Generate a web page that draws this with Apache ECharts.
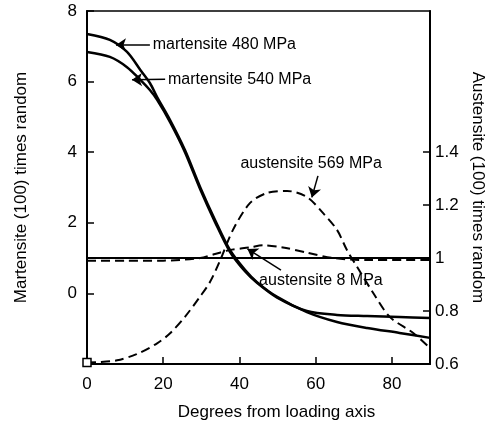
<!DOCTYPE html>
<html>
<head>
<meta charset="utf-8">
<script src="https://cdn.jsdelivr.net/npm/echarts@6/dist/echarts.min.js"></script>
<style>
html, body { margin: 0; padding: 0; background: #fff; }
#main { width: 494px; height: 428px; }
</style>
</head>
<body>
<div id="main"></div>
<script>
var myChart = echarts.init(document.getElementById('main'));

// angle from loading axis (deg) and times-random values
var m480Angle = [0, 6, 10.5, 14, 16.5, 18.4, 21.8, 25.7, 29.7, 33.6, 37.5, 41.5, 44.6, 49.9, 57.7, 65.6, 73.5, 82, 90];
var m480Value = [7.35, 7.18, 6.84, 6.33, 5.96, 5.56, 4.91, 4.06, 3.01, 2.08, 1.23, 0.66, 0.32, -0.10, -0.53, -0.81, -0.98, -1.12, -1.26];

var m540Angle = [0, 6, 10.5, 14, 16.5, 18.4, 21.8, 25.7, 29.7, 33.6, 37.5, 41.5, 44.6, 49.9, 57.7, 65.6, 73.5, 82, 90];
var m540Value = [6.84, 6.70, 6.41, 6.05, 5.76, 5.48, 4.85, 4.00, 2.95, 2.02, 1.18, 0.62, 0.30, -0.12, -0.50, -0.61, -0.64, -0.67, -0.70];

var a569Angle = [0, 3.4, 7.9, 13, 18.4, 21.8, 25.7, 29.7, 32.3, 34.9, 38.3, 42.8, 47.2, 52.5, 57.7, 61.9, 65.6, 68.2, 70.9, 75.1, 79.5, 85.6, 90];
var a569Value = [0.606, 0.607, 0.614, 0.637, 0.678, 0.716, 0.778, 0.855, 0.91, 0.99, 1.106, 1.208, 1.245, 1.253, 1.230, 1.170, 1.106, 1.030, 0.966, 0.868, 0.777, 0.717, 0.66];

var a8Angle = [0, 10, 20, 29.7, 33.6, 37.5, 42.8, 46.2, 51.4, 57.7, 64.6, 73.5, 90];
var a8Value = [0.99, 0.99, 0.99, 1.0, 1.015, 1.03, 1.04, 1.048, 1.04, 1.02, 1.0, 0.992, 0.992];

var randomAngle = [0, 90];
var randomValue = [1, 1];

var xTicks = [0, 20, 40, 60, 80];
var leftTicks = [0, 2, 4, 6, 8];
var rightTicks = [0.6, 0.8, 1, 1.2, 1.4];

function pairs(xs, ys) {
    return xs.map(function (x, i) { return [x, ys[i]]; });
}

var font = 'Liberation Sans, Arial, sans-serif';
var txt = { color: '#000', fontFamily: font, fontSize: 16 };
var dash = [9, 5];

myChart.setOption({
    animation: false,
    grid: {
        left: 87, right: 64, top: 11, bottom: 64,
        containLabel: false,
        outerBoundsMode: 'none',
        show: true, borderColor: '#000', borderWidth: 1.5
    },
    xAxis: {
        type: 'value', min: 0, max: 90,
        axisLine: { onZero: false, lineStyle: { color: '#000', width: 2 } },
        axisTick: { inside: true, length: 7, lineStyle: { color: '#000', width: 1.5 }, customValues: xTicks },
        axisLabel: { customValues: xTicks, margin: 12, color: '#000', fontFamily: font, fontSize: 17 },
        splitLine: { show: false },
        name: 'Degrees from loading axis',
        nameLocation: 'middle', nameGap: 40,
        nameTextStyle: { color: '#000', fontFamily: font, fontSize: 17, padding: [0, 0, 0, 36] }
    },
    yAxis: [{
        type: 'value', min: -2, max: 8,
        axisLine: { show: true, onZero: false, lineStyle: { color: '#000', width: 2 } },
        axisTick: { show: true, inside: true, length: 7, lineStyle: { color: '#000', width: 1.5 }, customValues: leftTicks },
        axisLabel: { customValues: leftTicks, margin: 10, color: '#000', fontFamily: font, fontSize: 17 },
        splitLine: { show: false },
        name: 'Martensite (100) times random',
        nameLocation: 'middle', nameGap: 57, nameRotate: 90,
        nameTextStyle: { color: '#000', fontFamily: font, fontSize: 17 }
    }, {
        type: 'value', min: 0.6, max: 1.932, position: 'right',
        axisLine: { show: true, onZero: false, lineStyle: { color: '#000', width: 2 } },
        axisTick: { show: true, inside: true, length: 7, lineStyle: { color: '#000', width: 1.5 }, customValues: rightTicks },
        axisLabel: { customValues: rightTicks, margin: 5, color: '#000', fontFamily: font, fontSize: 17,
            formatter: function (v) { return String(Math.round(v * 10) / 10); } },
        splitLine: { show: false },
        name: 'Austensite (100) times random',
        nameLocation: 'middle', nameGap: 36, nameRotate: -90,
        nameTextStyle: { color: '#000', fontFamily: font, fontSize: 17 }
    }],
    series: [{
        name: 'random', type: 'line', yAxisIndex: 0, symbol: 'none',
        data: pairs(randomAngle, randomValue),
        lineStyle: { color: '#000', width: 2 },
        markLine: {
            silent: true, symbol: ['none', 'arrow'], symbolSize: 10,
            label: { show: false },
            lineStyle: { color: '#000', width: 1.5, type: 'solid' },
            data: [
                [{ coord: [16.5, 7.04] }, { coord: [7.6, 7.04] }],
                [{ coord: [20.5, 6.07] }, { coord: [11.8, 6.05] }],
                [{ coord: [60.6, 3.33] }, { coord: [59, 2.72] }],
                [{ coord: [50.9, 0.66] }, { coord: [42.1, 1.26] }]
            ]
        },
        markPoint: {
            silent: true, symbol: 'circle', symbolSize: 0,
            data: [
                { coord: [17, 7.04], label: Object.assign({ show: true, position: 'right', distance: 1, formatter: 'martensite 480 MPa' }, txt) },
                { coord: [21, 6.07], label: Object.assign({ show: true, position: 'right', distance: 1, formatter: 'martensite 540 MPa' }, txt) },
                { coord: [58.8, 3.69], label: Object.assign({ show: true, position: 'inside', formatter: 'austensite 569 MPa' }, txt) },
                { coord: [44.9, 0.35], label: Object.assign({ show: true, position: 'right', distance: 1, formatter: 'austensite 8 MPa' }, txt) }
            ]
        }
    }, {
        name: 'martensite 480 MPa', type: 'line', yAxisIndex: 0, symbol: 'none', smooth: 0.3,
        data: pairs(m480Angle, m480Value),
        lineStyle: { color: '#000', width: 2.5 }
    }, {
        name: 'martensite 540 MPa', type: 'line', yAxisIndex: 0, symbol: 'none', smooth: 0.3,
        data: pairs(m540Angle, m540Value),
        lineStyle: { color: '#000', width: 2.5 }
    }, {
        name: 'austensite 569 MPa', type: 'line', yAxisIndex: 1, smooth: 0.3,
        symbol: 'rect',
        symbolSize: function (v, p) { return p.dataIndex === 0 ? 8 : 0; },
        itemStyle: { color: '#fff', borderColor: '#000', borderWidth: 1.5 },
        data: pairs(a569Angle, a569Value),
        lineStyle: { color: '#000', width: 2, type: dash }
    }, {
        name: 'austensite 8 MPa', type: 'line', yAxisIndex: 1, symbol: 'none', smooth: 0.3,
        data: pairs(a8Angle, a8Value),
        lineStyle: { color: '#000', width: 2, type: dash }
    }]
});
</script>
</body>
</html>
